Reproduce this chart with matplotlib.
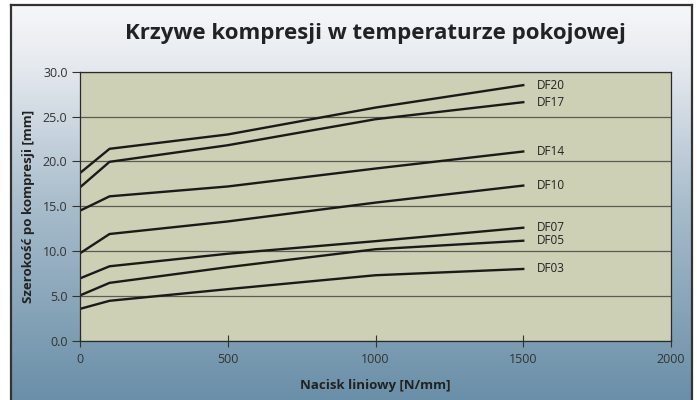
import numpy as np
import matplotlib.pyplot as plt
from matplotlib.colors import LinearSegmentedColormap

# nacisk liniowy [N/mm]
nacisk = [0, 100, 500, 1000, 1500]

# szerokość po kompresji [mm]
df20 = [18.7, 21.4, 23.0, 26.0, 28.5]
df17 = [17.1, 19.95, 21.8, 24.7, 26.6]
df14 = [14.5, 16.1, 17.2, 19.2, 21.1]
df10 = [9.75, 11.9, 13.3, 15.4, 17.3]
df07 = [6.95, 8.3, 9.7, 11.1, 12.6]
df05 = [5.05, 6.45, 8.2, 10.2, 11.15]
df03 = [3.55, 4.45, 5.75, 7.3, 8.0]

nazwy = ["DF20", "DF17", "DF14", "DF10", "DF07", "DF05", "DF03"]
serie = [df20, df17, df14, df10, df07, df05, df03]

plt.rcParams['font.family'] = ['Open Sans', 'DejaVu Sans']

fig = plt.figure(figsize=(6.97, 4.0), dpi=100)
fig.patch.set_facecolor('white')

# tło z gradientem
bg = fig.add_axes([11/697, 0, (692-11)/697, 395/400], zorder=-10)
cmap = LinearSegmentedColormap.from_list('tlo', [(0, '#f6f7f9'), (0.15, '#e6eaef'),
                                                 (0.5, '#a9bdcc'), (1, '#6a8fa8')])
grad = np.linspace(0, 1, 256).reshape(-1, 1)
bg.imshow(grad, aspect='auto', cmap=cmap, extent=[0, 1, 0, 1])
bg.set_xticks([]); bg.set_yticks([])
for s in ['left', 'right', 'top']:
    bg.spines[s].set_color('#333333')
    bg.spines[s].set_linewidth(1.6)
bg.spines['bottom'].set_visible(False)

ax = fig.add_axes([80/697, 59.3/400, 591/697, 269/400])
ax.set_facecolor('#cdd0b5')
for y, nazwa in zip(serie, nazwy):
    ax.plot(nacisk, y, color='#1a1a1a', lw=1.7, solid_joinstyle='round')
    ax.annotate(nazwa, (nacisk[-1], y[-1]), xytext=(10, 0), textcoords='offset points',
                va='center', ha='left', fontsize=8.5, color='#222222')

ax.set_xlim(0, 2000)
ax.set_ylim(0, 30)
ax.set_xticks([0, 500, 1000, 1500, 2000])
ax.set_yticks(np.arange(0, 31, 5))
ax.set_yticklabels([f"{v:.1f}" for v in np.arange(0, 31, 5)])
ax.yaxis.grid(True, color='#5c5c52', lw=0.9)
ax.set_axisbelow(True)
ax.tick_params(axis='y', direction='out', length=6, width=0.8, colors='#333333', labelsize=9, pad=3)
ax.tick_params(axis='x', direction='inout', length=8, width=0.8, colors='#333333', labelsize=9, pad=5)
for s in ax.spines.values():
    s.set_color('#2a2a2a')
    s.set_linewidth(0.9)

ax.set_xlabel("Nacisk liniowy [N/mm]", fontsize=9.5, fontweight='bold', color='#222222', labelpad=9)
ax.set_ylabel("Szerokość po kompresji [mm]", fontsize=9.5, fontweight='bold', color='#222222', labelpad=6)

fig.text(0.538, 0.915, "Krzywe kompresji w temperaturze pokojowej", ha='center', va='center',
         fontsize=16, fontweight='bold', color='#222222')

fig.savefig('out.png', dpi=100)
